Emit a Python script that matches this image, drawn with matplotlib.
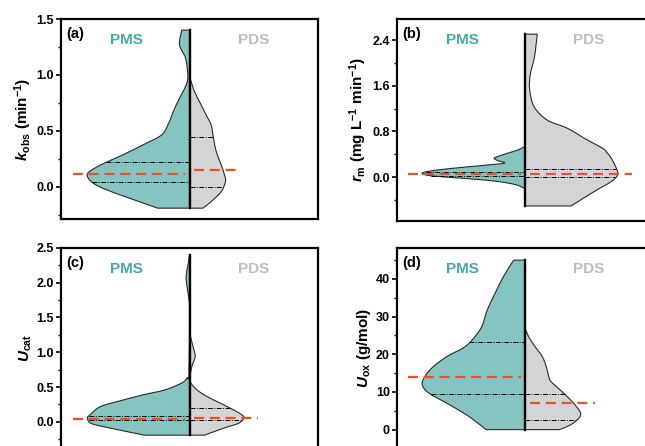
import matplotlib
matplotlib.use('Agg')
import matplotlib.pyplot as plt
import numpy as np
from matplotlib.ticker import MultipleLocator, FormatStrFormatter
from matplotlib.path import Path
from matplotlib.patches import PathPatch

plt.rcParams['font.family'] = ['Liberation Sans', 'DejaVu Sans']
plt.rcParams['font.weight'] = 'bold'
plt.rcParams['mathtext.fontset'] = 'custom'
plt.rcParams['mathtext.rm'] = 'Liberation Sans:bold'
plt.rcParams['mathtext.it'] = 'Liberation Sans:italic:bold'
plt.rcParams['mathtext.bf'] = 'Liberation Sans:bold'

groups = ['PMS', 'PDS']

# ---- panel (a): k_obs ----
a_pms_y = [1.40, 1.27, 1.15, 1.00, 0.91, 0.73, 0.55, 0.46, 0.373, 0.284, 0.224, 0.164, 0.11, 0.045, -0.015, -0.104, -0.193]
a_pms_w = [0.060, 0.078, 0.031, 0.013, 0.026, 0.104, 0.169, 0.220, 0.363, 0.519, 0.636, 0.739, 0.796, 0.765, 0.675, 0.467, 0.247]
a_pds_y = [0.98, 0.94, 0.85, 0.73, 0.64, 0.55, 0.433, 0.313, 0.194, 0.105, 0.045, -0.045, -0.134, -0.193]
a_pds_w = [0.0, 0.013, 0.039, 0.091, 0.130, 0.169, 0.187, 0.208, 0.247, 0.272, 0.280, 0.247, 0.169, 0.104]
a_pms_quart = [0.218, 0.040]
a_pds_quart = [0.447, 0.0]
a_means = [0.116, 0.149]

# ---- panel (b): r_m ----
b_pms_y = [0.535, 0.47, 0.42, 0.36, 0.33, 0.29, 0.245, 0.20, 0.15, 0.10, 0.06, 0.02, -0.02, -0.07, -0.13, -0.19]
b_pms_w = [0.004, 0.063, 0.137, 0.215, 0.242, 0.215, 0.164, 0.352, 0.586, 0.758, 0.802, 0.719, 0.484, 0.234, 0.078, 0.012]
b_pds_y = [2.505, 2.31, 2.08, 1.79, 1.53, 1.23, 1.00, 0.857, 0.65, 0.507, 0.42, 0.33, 0.157, 0.04, -0.077, -0.25, -0.505]
b_pds_w = [0.094, 0.084, 0.070, 0.039, 0.035, 0.070, 0.172, 0.328, 0.484, 0.602, 0.640, 0.670, 0.709, 0.719, 0.670, 0.539, 0.357]
b_pms_quart = [0.09, 0.025]
b_pds_quart = [0.145, 0.0]
b_means = [0.06, 0.055]

# ---- panel (c): U_cat ----
c_pms_y = [2.395, 2.29, 2.10, 1.95, 1.76, 1.60, 0.70, 0.63, 0.56, 0.46, 0.39, 0.30, 0.22, 0.10, 0.053, -0.02, -0.08, -0.19]
c_pms_w = [0.0, 0.008, 0.026, 0.020, 0.004, 0.0, 0.004, 0.020, 0.059, 0.19, 0.358, 0.545, 0.693, 0.775, 0.794, 0.767, 0.64, 0.35]
c_pds_y = [1.28, 1.09, 0.94, 0.80, 0.65, 0.56, 0.46, 0.365, 0.27, 0.173, 0.10, 0.053, -0.02, -0.09, -0.19]
c_pds_w = [0.0, 0.026, 0.044, 0.019, 0.004, 0.010, 0.058, 0.135, 0.239, 0.342, 0.408, 0.424, 0.381, 0.265, 0.117]
c_pms_quart = [0.09, 0.03]
c_pds_quart = [0.20, 0.03]
c_means = [0.04, 0.05]

# ---- panel (d): U_ox ----
d_pms_y = [45.0, 40.6, 36.2, 31.8, 27.5, 24.7, 22.0, 19.4, 16.7, 14.1, 11.9, 9.7, 7.0, 3.5, 0.0]
d_pms_w = [0.090, 0.170, 0.234, 0.295, 0.336, 0.391, 0.469, 0.609, 0.716, 0.781, 0.801, 0.750, 0.609, 0.438, 0.305]
d_pds_y = [26.9, 24.7, 22.0, 19.4, 16.7, 14.5, 13.0, 11.9, 9.7, 7.0, 4.5, 3.0, 1.25, 0.0]
d_pds_w = [0.0, 0.026, 0.078, 0.133, 0.164, 0.180, 0.195, 0.227, 0.299, 0.377, 0.430, 0.416, 0.352, 0.266]
d_pms_quart = [23.2, 9.4]
d_pds_quart = [9.4, 2.5]
d_means = [14.0, 7.1]

ylabels = [r'$k_{\mathrm{obs}}$ (min$^{\mathrm{-1}}$)',
           r'$r_{\mathrm{m}}$ (mg L$^{\mathrm{-1}}$ min$^{\mathrm{-1}}$)',
           r'$U_{\mathrm{cat}}$',
           r'$U_{\mathrm{ox}}$ (g/mol)']
letters = ['(a)', '(b)', '(c)', '(d)']

PMS_FILL = '#86C4C1'
PDS_FILL = '#D3D4D6'
PMS_TXT = '#43ABA6'
PDS_TXT = '#BDBDBD'
RED = '#EE4E2A'
EDGE = '#2a2a2a'

W, H = 645, 446
def pos(l, t, w=257, h=200):
    return [l / W, (H - t - h) / H, w / W, h / H]


def half_violin(ax, ys, ws, side, color):
    """Smooth outline (Catmull-Rom as cubic Bezier) through the read profile points."""
    pts = np.column_stack([side * np.asarray(ws, float), np.asarray(ys, float)])
    n = len(pts)
    verts = [(0.0, pts[0, 1]), tuple(pts[0])]
    codes = [Path.MOVETO, Path.LINETO]
    for i in range(n - 1):
        p0 = pts[max(i - 1, 0)]
        p1 = pts[i]
        p2 = pts[i + 1]
        p3 = pts[min(i + 2, n - 1)]
        c1 = p1 + (p2 - p0) / 6.0
        c2 = p2 - (p3 - p1) / 6.0
        verts += [tuple(c1), tuple(c2), tuple(p2)]
        codes += [Path.CURVE4] * 3
    verts += [(0.0, pts[-1, 1]), (0.0, pts[0, 1])]
    codes += [Path.LINETO, Path.CLOSEPOLY]
    ax.add_patch(PathPatch(Path(verts, codes), facecolor=color, edgecolor=EDGE,
                           lw=0.8, zorder=2))


fig = plt.figure(figsize=(6.45, 4.46), dpi=100)

panels = [
    dict(pos=pos(61, 19), ylim=(-0.29, 1.5), major=0.5, minor=0.25, fmt='%.1f',
         pms=(a_pms_y, a_pms_w), pds=(a_pds_y, a_pds_w), q=(a_pms_quart, a_pds_quart), m=a_means),
    dict(pos=pos(396.7, 18.5, h=202), ylim=(-0.76, 2.78), major=0.8, minor=0.4, fmt='%.1f',
         pms=(b_pms_y, b_pms_w), pds=(b_pds_y, b_pds_w), q=(b_pms_quart, b_pds_quart), m=b_means),
    dict(pos=pos(61, 247.7), ylim=(-0.37, 2.5), major=0.5, minor=0.25, fmt='%.1f',
         pms=(c_pms_y, c_pms_w), pds=(c_pds_y, c_pds_w), q=(c_pms_quart, c_pds_quart), m=c_means),
    dict(pos=pos(396.7, 247.7), ylim=(-4.8, 48.3), major=10, minor=5, fmt='%d',
         pms=(d_pms_y, d_pms_w), pds=(d_pds_y, d_pds_w), q=(d_pms_quart, d_pds_quart), m=d_means),
]

DASHDOT = (0, (5, 1.5, 1, 1.5))

for i, p in enumerate(panels):
    ax = fig.add_axes(p['pos'])
    ax.set_xlim(-1, 1)
    ax.set_ylim(*p['ylim'])
    py, pw = np.array(p['pms'][0]), np.array(p['pms'][1])
    dy, dw = np.array(p['pds'][0]), np.array(p['pds'][1])
    half_violin(ax, py, pw, -1, PMS_FILL)
    half_violin(ax, dy, dw, 1, PDS_FILL)
    # quartile lines
    for q in p['q'][0]:
        w = np.interp(q, py[::-1], pw[::-1])
        ax.plot([-w, 0], [q, q], color='k', lw=0.7, linestyle=DASHDOT, zorder=3)
    for q in p['q'][1]:
        w = np.interp(q, dy[::-1], dw[::-1])
        ax.plot([0, w], [q, q], color='k', lw=0.7, linestyle=DASHDOT, zorder=3)
    # center line
    ylo = min(py.min(), dy.min())
    yhi = max(py.max(), dy.max())
    ax.plot([0, 0], [ylo, yhi], color='k', lw=1.7, zorder=4)
    # mean lines
    ax.plot([-(pw.max() + 0.11), -0.035], [p['m'][0]] * 2, color=RED, lw=1.6,
            dashes=(4.5, 2.6), zorder=5)
    ax.plot([0.035, dw.max() + 0.11], [p['m'][1]] * 2, color=RED, lw=1.6,
            dashes=(4.5, 2.6), zorder=5)
    # axes styling
    for s in ax.spines.values():
        s.set_linewidth(1.6)
    ax.set_xticks([])
    ax.yaxis.set_major_locator(MultipleLocator(p['major']))
    ax.yaxis.set_minor_locator(MultipleLocator(p['minor']))
    ax.yaxis.set_major_formatter(FormatStrFormatter(p['fmt']))
    ax.tick_params(axis='y', which='major', direction='out', length=3.5, width=1.2,
                   labelsize=9, pad=1.5)
    ax.tick_params(axis='y', which='minor', direction='out', length=2, width=1.0)
    for lab in ax.get_yticklabels():
        lab.set_fontweight('bold')
    ax.set_ylabel(ylabels[i], fontsize=11, fontweight='bold', labelpad=2)
    ax.text(0.02, 0.925, letters[i], transform=ax.transAxes, fontsize=10.5,
            fontweight='bold', va='center', ha='left')
    ax.text(0.255, 0.895, groups[0], transform=ax.transAxes, fontsize=11,
            fontweight='bold', color=PMS_TXT, ha='center', va='center')
    ax.text(0.748, 0.895, groups[1], transform=ax.transAxes, fontsize=11,
            fontweight='bold', color=PDS_TXT, ha='center', va='center')

fig.savefig('out.png', dpi=100)
